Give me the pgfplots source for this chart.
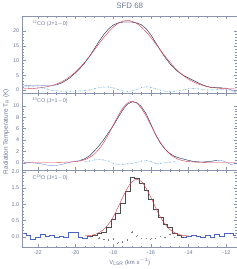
\documentclass[border=0pt]{standalone}
\usepackage{fontspec}
\setmainfont{Liberation Sans}
\usepackage{pgfplots}
\usepackage{pgfplotstable}
\pgfplotsset{compat=1.18}
\definecolor{txt}{rgb}{0.42,0.47,0.60}
\definecolor{fr}{rgb}{0.55,0.58,0.68}
\definecolor{resc}{rgb}{0.45,0.68,0.88}
\definecolor{outc}{rgb}{0.30,0.40,0.75}
\definecolor{fitc}{rgb}{0.85,0.25,0.30}

\pgfplotstableread{
v data fit res
-22.75 1.39 0.39 1.0
-22.5 1.55 0.45 1.1
-22.25 1.64 0.54 1.1
-22.0 1.67 0.67 1.0
-21.75 1.57 0.87 0.7
-21.5 1.44 1.14 0.3
-21.25 1.43 1.53 -0.1
-21.0 1.76 2.06 -0.3
-20.75 2.36 2.76 -0.4
-20.5 3.25 3.65 -0.4
-20.25 4.36 4.76 -0.4
-20.0 5.81 6.11 -0.3
-19.75 7.39 7.69 -0.3
-19.5 9.29 9.49 -0.2
-19.25 11.48 11.48 0.0
-19.0 13.98 13.58 0.4
-18.75 16.51 15.71 0.8
-18.5 18.79 17.79 1.0
-18.25 20.69 19.69 1.0
-18.0 22.01 21.31 0.7
-17.75 22.75 22.55 0.2
-17.5 23.03 23.33 -0.3
-17.25 23.10 23.6 -0.5
-17.0 23.03 23.33 -0.3
-16.75 22.75 22.55 0.2
-16.5 22.11 21.31 0.8
-16.25 20.79 19.69 1.1
-16.0 18.69 17.79 0.9
-15.75 16.11 15.71 0.4
-15.5 13.48 13.58 -0.1
-15.25 11.08 11.48 -0.4
-15.0 8.99 9.49 -0.5
-14.75 7.29 7.69 -0.4
-14.5 5.91 6.11 -0.2
-14.25 4.86 4.76 0.1
-14.0 4.05 3.65 0.4
-13.75 3.26 2.76 0.5
-13.5 2.46 2.06 0.4
-13.25 1.73 1.53 0.2
-13.0 1.14 1.14 0.0
-12.75 0.87 0.87 0.0
-12.5 0.77 0.67 0.1
-12.25 0.74 0.54 0.2
-12.0 0.65 0.45 0.2
-11.75 0.09 0.39 -0.3
-11.5 -0.65 0.35 -1.0
}\topdata

\pgfplotstableread{
v data fit res
-22.75 0.0 0.1 -0.1
-22.5 0.05 0.1 -0.05
-22.25 0.0 0.1 -0.1
-22.0 -0.1 0.1 -0.2
-21.75 -0.2 0.1 -0.3
-21.5 -0.4 0.1 -0.5
-21.25 -0.5 0.1 -0.6
-21.0 -0.45 0.1 -0.55
-20.75 -0.3 0.1 -0.4
-20.5 -0.08 0.12 -0.2
-20.25 0.15 0.15 0.0
-20.0 0.27 0.22 0.05
-19.75 0.44 0.34 0.1
-19.5 0.72 0.57 0.15
-19.25 1.25 0.95 0.3
-19.0 2.05 1.55 0.5
-18.75 3.01 2.41 0.6
-18.5 4.07 3.57 0.5
-18.25 5.30 5.00 0.3
-18.0 6.49 6.59 -0.1
-17.75 7.88 8.18 -0.3
-17.5 9.24 9.54 -0.3
-17.25 10.27 10.47 -0.2
-17.0 10.7 10.8 -0.1
-16.75 10.57 10.47 0.1
-16.5 9.84 9.54 0.3
-16.25 8.58 8.18 0.4
-16.0 6.79 6.59 0.2
-15.75 4.90 5.00 -0.1
-15.5 3.47 3.57 -0.1
-15.25 2.41 2.41 0.0
-15.0 1.65 1.55 0.1
-14.75 1.15 0.95 0.2
-14.5 0.87 0.57 0.3
-14.25 0.64 0.34 0.3
-14.0 0.42 0.22 0.2
-13.75 0.25 0.15 0.1
-13.5 0.17 0.12 0.05
-13.25 0.15 0.1 0.05
-13.0 0.2 0.1 0.1
-12.75 0.3 0.1 0.2
-12.5 0.45 0.1 0.35
-12.25 0.4 0.1 0.3
-12.0 0.1 0.1 0.0
-11.75 -0.3 0.1 -0.4
-11.5 -0.1 0.1 -0.2
}\middata

\pgfplotstableread{
v data fit res
-22.75 0.10 0.02 0.08
-22.5 0.05 0.02 0.03
-22.25 -0.08 0.02 -0.10
-22.0 -0.02 0.02 -0.04
-21.75 0.08 0.02 0.06
-21.5 0.02 0.02 0.0
-21.25 0.05 0.02 0.03
-21.0 -0.02 0.02 -0.04
-20.75 0.03 0.02 0.01
-20.5 0.00 0.02 -0.02
-20.25 0.14 0.02 0.12
-20.0 0.14 0.02 0.12
-19.75 0.00 0.02 -0.02
-19.5 -0.05 0.03 -0.08
-19.25 0.02 0.04 -0.02
-19.0 0.05 0.07 -0.02
-18.75 0.10 0.13 -0.03
-18.5 0.15 0.23 -0.08
-18.25 0.30 0.39 -0.09
-18.0 0.55 0.61 -0.06
-17.75 0.72 0.90 -0.18
-17.5 1.05 1.21 -0.16
-17.25 1.40 1.49 -0.09
-17.0 1.85 1.70 0.15
-16.75 1.80 1.77 0.03
-16.5 1.65 1.70 -0.05
-16.25 1.45 1.49 -0.04
-16.0 1.15 1.21 -0.06
-15.75 0.85 0.90 -0.05
-15.5 0.62 0.61 0.01
-15.25 0.38 0.39 -0.01
-15.0 0.30 0.23 0.07
-14.75 0.12 0.13 -0.01
-14.5 0.05 0.07 -0.02
-14.25 0.00 0.04 -0.04
-14.0 0.02 0.03 -0.01
-13.75 0.05 0.02 0.03
-13.5 0.02 0.02 0.0
-13.25 -0.02 0.02 -0.04
-13.0 0.05 0.02 0.03
-12.75 0.00 0.02 -0.02
-12.5 0.08 0.02 0.06
-12.25 0.03 0.02 0.01
-12.0 0.10 0.02 0.08
-11.75 0.12 0.02 0.10
-11.5 0.05 0.02 0.03
}\botdata

\tikzset{lab/.style={anchor=north west, font=\fontsize{5.5}{6.5}\selectfont, text=txt}}
\pgfplotsset{
  panel/.style={
    width=217pt, height=78pt, scale only axis,
    xmin=-22.8, xmax=-11.45,
    xtick={-22,-20,-18,-16,-14,-12},
    minor x tick num=3,
    axis line style={fr, line width=0.3pt},
    every tick/.style={fr, line width=0.3pt},
    major tick length=3pt, minor tick length=1.6pt,
    tick label style={font=\fontsize{5.5}{6.5}\selectfont, text=txt},
    /pgf/number format/assume math mode=true,
    clip=true,
  },
}

\begin{document}
\begin{tikzpicture}
\begin{axis}[panel, name=top,
  ymin=-1.1, ymax=25, ytick={0,5,10,15,20}, minor y tick num=4,
  xticklabels={},
  title={SFD 68}, title style={font=\fontsize{8}{9}\selectfont, text=txt, yshift=-2pt}]
  \addplot[outc, line width=0.3pt] table[x=v,y=data] {\topdata};
  \addplot[black!75, line width=0.3pt, restrict x to domain=-21.0:-12.25] table[x=v,y=data] {\topdata};
  \addplot[resc, densely dotted, line width=0.5pt, mark=*, mark size=0.3pt] table[x=v,y=res] {\topdata};
  \addplot[fitc, smooth, line width=0.45pt] table[x=v,y=fit] {\topdata};
  \node[lab] at (rel axis cs:0.03,0.98) {\textsuperscript{12}CO (J=1$-$0)};
\end{axis}
\begin{axis}[panel, name=mid, at={(top.south west)}, anchor=north west,
  ymin=-1.3, ymax=12.2, ytick={0,2,4,6,8,10}, minor y tick num=3,
  xticklabels={},
  ylabel={Radiation Temperature T\textsubscript{R} (K)},
  ylabel style={font=\fontsize{6.5}{7.5}\selectfont, text=txt, yshift=-3pt}]
  \addplot[resc!70!blue, line width=0.3pt] table[x=v,y=data] {\middata};
  \addplot[black!75, line width=0.3pt, restrict x to domain=-19.75:-12.5] table[x=v,y=data] {\middata};
  \addplot[resc, densely dotted, line width=0.5pt, mark=*, mark size=0.3pt, restrict x to domain=-19.5:-14.75] table[x=v,y=res] {\middata};
  \addplot[fitc, smooth, line width=0.45pt] table[x=v,y=fit] {\middata};
  \node[lab] at (rel axis cs:0.03,0.98) {\textsuperscript{13}CO (J=1$-$0)};
\end{axis}
\begin{axis}[panel, name=bot, at={(mid.south west)}, anchor=north west,
  ymin=-0.32, ymax=2.05, ytick={0,0.5,1,1.5,2}, minor y tick num=4,
  yticklabel style={/pgf/number format/.cd, fixed, fixed zerofill, precision=1},
  xlabel={V\textsubscript{LSR} (km s\textsuperscript{$-$1})},
  xlabel style={font=\fontsize{6}{7}\selectfont, text=txt, yshift=3pt}]
  \addplot[outc, const plot mark mid, line width=0.3pt] table[x=v,y=data] {\botdata};
  \addplot[black!70, const plot mark mid, line width=0.3pt, restrict x to domain=-19.25:-14.25] table[x=v,y=data] {\botdata};
  \addplot[gray, only marks, mark=+, mark size=0.6pt, line width=0.3pt, restrict x to domain=-18.75:-14.75] table[x=v,y=res] {\botdata};
  \addplot[fitc, smooth, line width=0.45pt, restrict x to domain=-19.5:-14.0] table[x=v,y=fit] {\botdata};
  \node[lab] at (rel axis cs:0.03,0.98) {C\textsuperscript{18}O (J=1$-$0)};
\end{axis}
\end{tikzpicture}
\end{document}
